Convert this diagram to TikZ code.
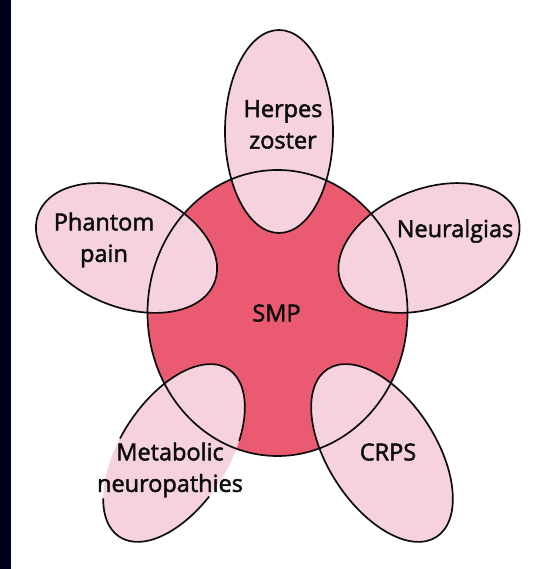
\documentclass[tikz,border=0pt]{standalone}
\usepackage{fontspec}
\setmainfont{Open Sans}
\newfontfamily\lblfont{Open Sans}[FakeBold=2]
\definecolor{smpred}{HTML}{EA5A71}
\definecolor{petalpink}{HTML}{F6D2DF}
\definecolor{navystrip}{HTML}{00001E}
\begin{document}
\begin{tikzpicture}[x=1pt,y=1pt,
  outline/.style={draw=black!95, line width=1.7pt},
  lbl/.style={font=\lblfont\fontsize{23.5}{31.5}\selectfont, align=center, text=black!95, inner sep=0pt}]
\useasboundingbox (0,0) rectangle (545,569);
\fill[white] (0,0) rectangle (545,569);
\fill[navystrip] (0,0) rectangle (11,569);
% central circle fill
\fill[smpred] (277.5,256) ellipse[x radius=130, y radius=143];
% petal fills
\fill[petalpink, shift={(279,437.5)}] (0,0) ellipse[x radius=54, y radius=101.5];
\fill[petalpink, shift={(126.5,321)}, rotate=-21.5] (0,0) ellipse[x radius=94.5, y radius=59];
\fill[petalpink, shift={(429,321)}, rotate=21.5] (0,0) ellipse[x radius=94.5, y radius=59];
\fill[petalpink, shift={(382,116)}, rotate=-57] (0,0) ellipse[x radius=100, y radius=54];
\fill[petalpink, shift={(174,116)}, rotate=57] (0,0) ellipse[x radius=100, y radius=54];
% outlines
\draw[outline] (277.5,256) ellipse[x radius=130, y radius=143];
\draw[outline, shift={(279,437.5)}] (0,0) ellipse[x radius=54, y radius=101.5];
\draw[outline, shift={(126.5,321)}, rotate=-21.5] (0,0) ellipse[x radius=94.5, y radius=59];
\draw[outline, shift={(429,321)}, rotate=21.5] (0,0) ellipse[x radius=94.5, y radius=59];
\draw[outline, shift={(382,116)}, rotate=-57] (0,0) ellipse[x radius=100, y radius=54];
\draw[outline, shift={(174,116)}, rotate=57] (297:100 and 54) arc[start angle=297, end angle=460, x radius=100, y radius=54];
\draw[outline, shift={(174,116)}, rotate=57] (140:100 and 54) arc[start angle=140, end angle=260, x radius=100, y radius=54];
% labels
\node[lbl] (herpes) at (283,444.5) {Herpes\\zoster};
\node[lbl] (phantom) at (104,329) {Phantom\\pain};
\node[lbl] (neur) at (455,338) {Neuralgias};
\node[lbl] (smp) at (276.5,256) {SMP};
\node[lbl] (crps) at (388,117) {CRPS};
\node[lbl] (meta) at (170,99) {Metabolic\\neuropathies};
\end{tikzpicture}
\end{document}
